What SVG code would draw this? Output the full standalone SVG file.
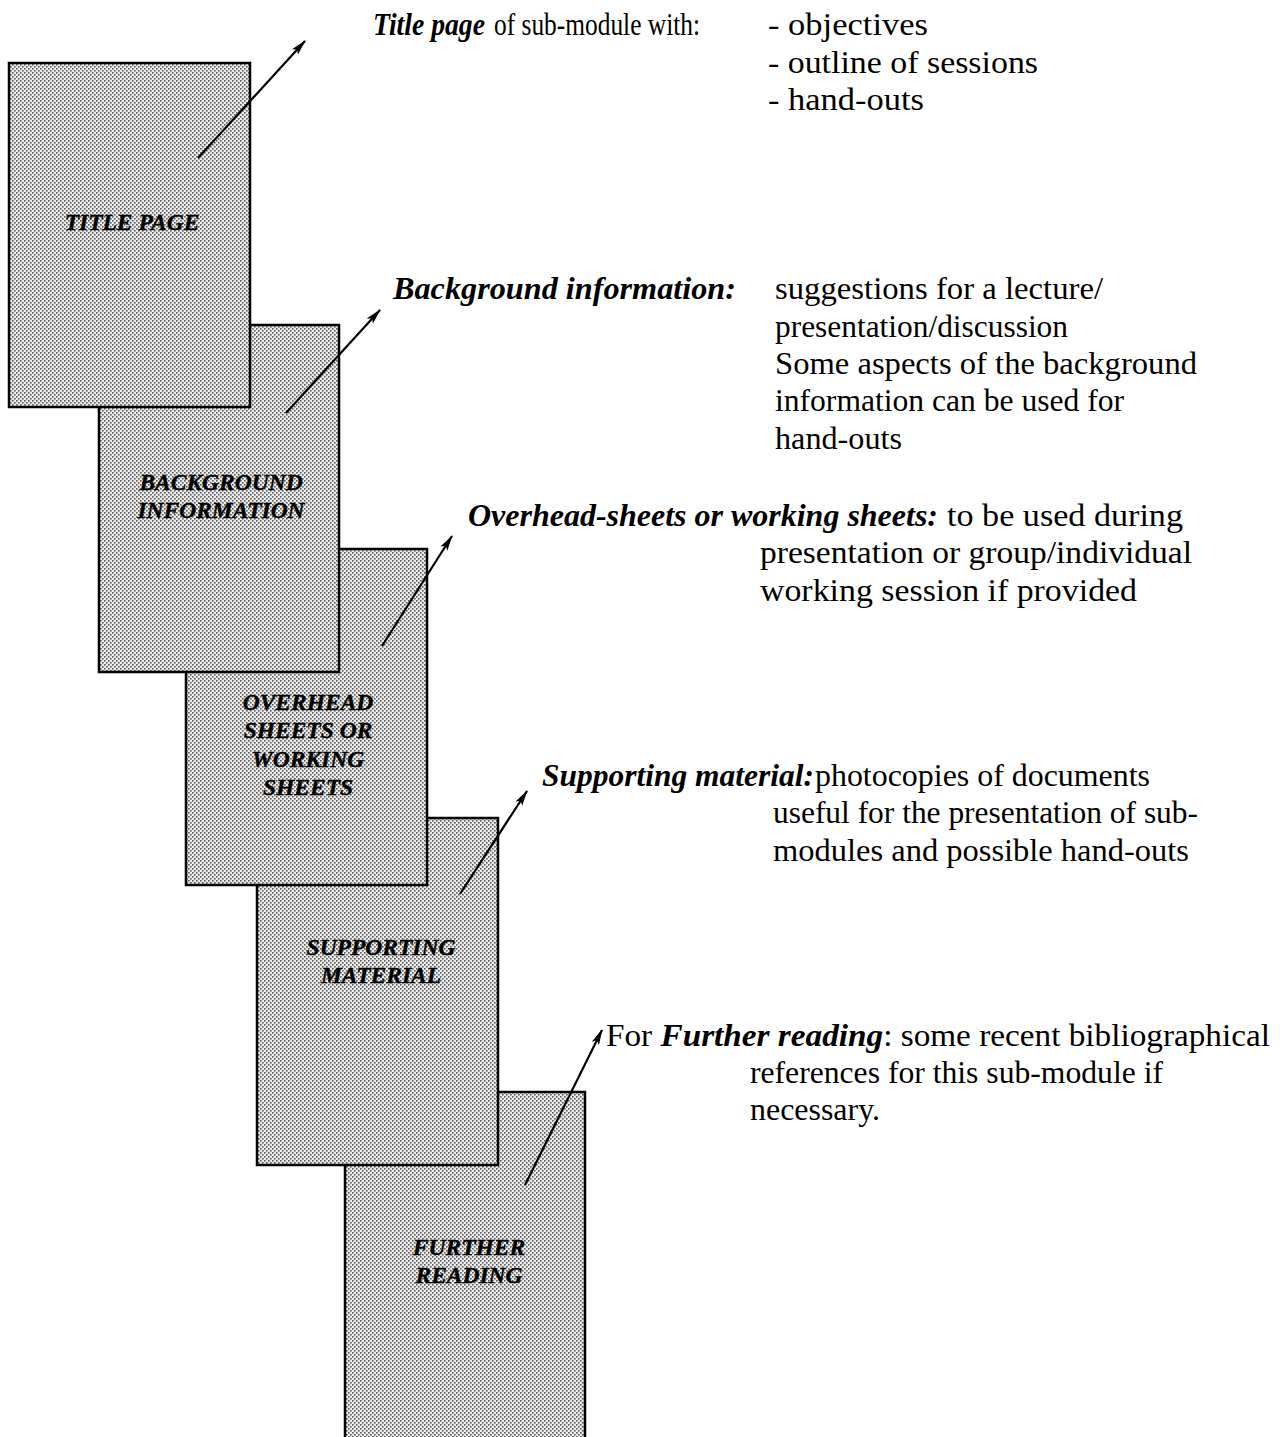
<svg xmlns="http://www.w3.org/2000/svg" width="1288" height="1437" viewBox="0 0 1288 1437">
  <defs>
    <!-- halftone screen used for the page fills -->
    <pattern id="screen" width="4" height="4" patternUnits="userSpaceOnUse">
      <rect width="4" height="4" fill="#ececec"/>
      <rect x="0" y="0" width="1.6" height="1.6" fill="#5a5a5a"/>
      <rect x="2" y="2" width="1.6" height="1.6" fill="#5a5a5a"/>
    </pattern>
    <marker id="head" viewBox="0 0 16 9" refX="15" refY="4.5" markerWidth="16" markerHeight="9" markerUnits="userSpaceOnUse" orient="auto">
      <path d="M0,0.5 L16,4.5 L0,8.5 L3.5,4.5 Z" fill="#000"/>
    </marker>
  </defs>
  <style>
    .page { fill: url(#screen); stroke: #000; stroke-width: 2.5; }
    .plabel { font-family: "Liberation Serif", "Times New Roman", serif; font-size: 23.5px; font-weight: bold; font-style: italic; fill: #000; text-anchor: middle; stroke: #000; stroke-width: 0.4; }
    .txt { font-family: "Liberation Serif", "Times New Roman", serif; font-size: 32px; fill: #000; }
    .em { font-weight: bold; font-style: italic; }
    .arrow { stroke: #000; stroke-width: 2.2; fill: none; marker-end: url(#head); }
  </style>

  <rect width="1288" height="1437" fill="#fff"/>

  <!-- stacked pages, back to front -->
  <g id="further-reading">
    <rect class="page" x="345" y="1092" width="240" height="360"/>
    <text class="plabel" x="469" y="1255">FURTHER</text>
    <text class="plabel" x="469" y="1283">READING</text>
  </g>
  <g id="supporting-material">
    <rect class="page" x="257" y="818" width="241" height="347"/>
    <text class="plabel" x="381" y="955">SUPPORTING</text>
    <text class="plabel" x="381" y="983">MATERIAL</text>
  </g>
  <g id="overhead-sheets">
    <rect class="page" x="186" y="549" width="241" height="336"/>
    <text class="plabel" x="308" y="710">OVERHEAD</text>
    <text class="plabel" x="308" y="738">SHEETS OR</text>
    <text class="plabel" x="308" y="767">WORKING</text>
    <text class="plabel" x="308" y="795">SHEETS</text>
  </g>
  <g id="background-information">
    <rect class="page" x="99" y="325" width="240" height="347"/>
    <text class="plabel" x="221" y="490">BACKGROUND</text>
    <text class="plabel" x="221" y="518">INFORMATION</text>
  </g>
  <g id="title-page">
    <rect class="page" x="9" y="63" width="241" height="344"/>
    <text class="plabel" x="132" y="230">TITLE PAGE</text>
  </g>

  <!-- pointers from each page to its description -->
  <g id="connectors">
    <line class="arrow" x1="198" y1="158" x2="305" y2="41"/>
    <line class="arrow" x1="286" y1="413" x2="380" y2="310"/>
    <line class="arrow" x1="382" y1="646" x2="452" y2="536"/>
    <line class="arrow" x1="460" y1="894" x2="527" y2="791"/>
    <line class="arrow" x1="525" y1="1185" x2="602" y2="1030"/>
  </g>

  <!-- descriptions -->
  <g id="desc-title">
    <text class="txt em" x="373" y="35" textLength="112" lengthAdjust="spacingAndGlyphs">Title page</text>
    <text class="txt" x="494" y="35" textLength="206" lengthAdjust="spacingAndGlyphs">of sub-module with:</text>
    <text class="txt" x="768" y="35" textLength="160" lengthAdjust="spacingAndGlyphs">- objectives</text>
    <text class="txt" x="768" y="73" textLength="270" lengthAdjust="spacingAndGlyphs">- outline of sessions</text>
    <text class="txt" x="768" y="110" textLength="156" lengthAdjust="spacingAndGlyphs">- hand-outs</text>
  </g>
  <g id="desc-background">
    <text class="txt em" x="393" y="299" textLength="343" lengthAdjust="spacingAndGlyphs">Background information:</text>
    <text class="txt" x="775" y="299" textLength="328" lengthAdjust="spacingAndGlyphs">suggestions for a lecture/</text>
    <text class="txt" x="775" y="337" textLength="293" lengthAdjust="spacingAndGlyphs">presentation/discussion</text>
    <text class="txt" x="775" y="374" textLength="422" lengthAdjust="spacingAndGlyphs">Some aspects of the background</text>
    <text class="txt" x="775" y="411" textLength="349" lengthAdjust="spacingAndGlyphs">information can be used for</text>
    <text class="txt" x="775" y="449" textLength="127" lengthAdjust="spacingAndGlyphs">hand-outs</text>
  </g>
  <g id="desc-overhead">
    <text class="txt em" x="468" y="526" textLength="470" lengthAdjust="spacingAndGlyphs">Overhead-sheets or working sheets:</text>
    <text class="txt" x="947" y="526" textLength="236" lengthAdjust="spacingAndGlyphs">to be used during</text>
    <text class="txt" x="760" y="563" textLength="432" lengthAdjust="spacingAndGlyphs">presentation or group/individual</text>
    <text class="txt" x="760" y="601" textLength="377" lengthAdjust="spacingAndGlyphs">working session if provided</text>
  </g>
  <g id="desc-supporting">
    <text class="txt em" x="542" y="786" textLength="272" lengthAdjust="spacingAndGlyphs">Supporting material:</text>
    <text class="txt" x="815" y="786" textLength="335" lengthAdjust="spacingAndGlyphs">photocopies of documents</text>
    <text class="txt" x="773" y="823" textLength="425" lengthAdjust="spacingAndGlyphs">useful for the presentation of sub-</text>
    <text class="txt" x="773" y="861" textLength="416" lengthAdjust="spacingAndGlyphs">modules and possible hand-outs</text>
  </g>
  <g id="desc-further">
    <text class="txt" x="606" y="1046" textLength="664" lengthAdjust="spacingAndGlyphs">For <tspan class="em">Further reading</tspan>: some recent bibliographical</text>
    <text class="txt" x="750" y="1083" textLength="413" lengthAdjust="spacingAndGlyphs">references for this sub-module if</text>
    <text class="txt" x="750" y="1120" textLength="130" lengthAdjust="spacingAndGlyphs">necessary.</text>
  </g>
</svg>
